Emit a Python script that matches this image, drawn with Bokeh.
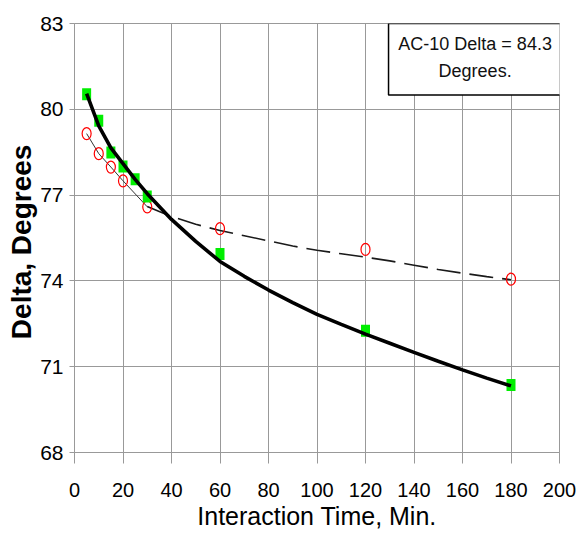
from bokeh.plotting import figure
from bokeh.models import FixedTicker, BoxAnnotation, Label, Range1d
from bokeh.embed import file_html
from bokeh.resources import INLINE

# ---- data ----
x_ticks = [0, 20, 40, 60, 80, 100, 120, 140, 160, 180, 200]
y_ticks = [68, 71, 74, 77, 80, 83]

# measured points: green squares
time_sq = [5, 10, 15, 20, 25, 30, 60, 120, 180]
delta_sq = [80.53, 79.6, 78.49, 78.0, 77.55, 76.95, 74.94, 72.26, 70.36]

# measured points: red open circles
time_circ = [5, 10, 15, 20, 30, 60, 120, 180]
delta_circ = [79.15, 78.45, 77.98, 77.5, 76.59, 75.83, 75.1, 74.06]

# bold black fitted curve (through green squares)
fit_sq_time = [5, 10, 15, 20, 25, 30, 40, 50, 60, 70, 80, 90, 100, 110, 120,
               130, 140, 150, 160, 170, 180]
fit_sq_delta = [80.55, 79.42, 78.65, 78.1, 77.55, 77.05, 76.15, 75.38, 74.68,
                74.16, 73.68, 73.24, 72.83, 72.48, 72.14, 71.82, 71.5, 71.19,
                70.89, 70.6, 70.33]

# dashed fitted curve (through red circles)
fit_circ_time = [30, 40, 50, 60, 70, 80, 90, 100, 110, 120, 130, 140, 150,
                 160, 170, 180]
fit_circ_delta = [76.6, 76.25, 75.98, 75.76, 75.58, 75.4, 75.22, 75.07, 74.95,
                  74.83, 74.7, 74.55, 74.4, 74.27, 74.15, 74.04]

note_lines = ["AC-10 Delta = 84.3", "Degrees."]
x_title = "Interaction Time, Min."
y_title = "Delta,  Degrees"

FONT = "Liberation Sans"
GRID = "#999999"

p = figure(width=576, height=550, output_backend="svg", toolbar_location=None,
           x_range=Range1d(0, 200), y_range=Range1d(68, 83),
           min_border_left=74, min_border_right=17, min_border_top=23,
           min_border_bottom=98)
p.background_fill_color = "white"
p.border_fill_color = "white"
p.outline_line_color = GRID
p.outline_line_width = 1

# axes
for ax, ticks in ((p.xaxis, x_ticks), (p.yaxis, y_ticks)):
    ax.ticker = FixedTicker(ticks=ticks)
    ax.axis_line_color = GRID
    ax.major_tick_line_color = GRID
    ax.minor_tick_line_color = None
    ax.major_tick_in = 0
    ax.major_label_text_font = FONT
    ax.major_label_text_color = "black"
    ax.axis_label_text_font = FONT
    ax.axis_label_text_color = "black"

p.xaxis.major_tick_out = 11
p.xaxis.major_label_text_font_size = "20px"
p.xaxis.major_label_standoff = 19
p.xaxis.axis_label = x_title
p.xaxis.axis_label_text_font_size = "25px"
p.xaxis.axis_label_text_font_style = "normal"
p.xaxis.axis_label_standoff = 2

p.yaxis.major_tick_out = 5
p.yaxis.major_label_text_font_size = "21px"
p.yaxis.major_label_standoff = 6
p.yaxis.axis_label = y_title
p.yaxis.axis_label_text_font_size = "28px"
p.yaxis.axis_label_text_font_style = "bold"
p.yaxis.axis_label_standoff = 0

p.xgrid.ticker = FixedTicker(ticks=x_ticks)
p.ygrid.ticker = FixedTicker(ticks=y_ticks)
for g in (p.xgrid, p.ygrid):
    g.grid_line_color = GRID
    g.grid_line_width = 1

# thin connecting line among early red circles, then dashed fit
n_early = sum(1 for t in time_circ if t <= 30)
p.line(time_circ[:n_early], delta_circ[:n_early], line_color="#333333",
       line_width=1)
p.line(fit_circ_time, fit_circ_delta, line_color="#1a1a1a", line_width=1.6,
       line_dash="24 9")

# red open circles (slightly tall ovals)
p.ellipse(x=time_circ, y=delta_circ, width=9, height=12, width_units="screen",
          height_units="screen", fill_color=None, line_color="#ff0000",
          line_width=1.2)

# green squares
p.rect(x=time_sq, y=delta_sq, width=9, height=12, width_units="screen",
       height_units="screen", fill_color="#00ee00", line_color=None)

# bold black fitted curve
p.line(fit_sq_time, fit_sq_delta, line_color="black", line_width=3.6)

# note box
box = BoxAnnotation(left=129.5, right=200.5, top=83, bottom=80.5,
                    fill_color="white", fill_alpha=1, line_color="black",
                    line_alpha=1, line_width=1.5, level="overlay")
p.add_layout(box)
for txt, yy in zip(note_lines, [82.27, 81.35]):
    p.add_layout(Label(x=165.2, y=yy, text=txt, text_align="center",
                       text_baseline="middle", text_font=FONT,
                       text_font_size="18px", text_color="#111111",
                       level="overlay"))

open("out.html", "w").write(file_html(p, INLINE))
